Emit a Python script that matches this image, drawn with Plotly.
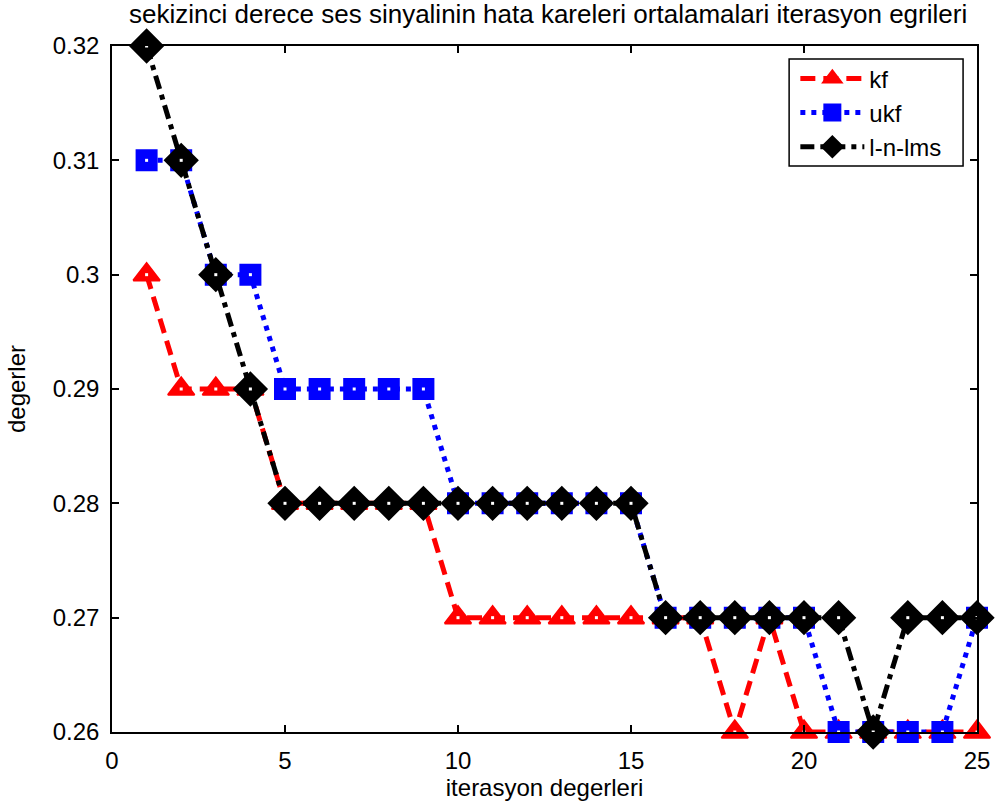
import plotly.graph_objects as go

# iteration index
iterations = list(range(1, 26))

# mean squared error per iteration for each filter
kf_values = [0.30, 0.29, 0.29, 0.29, 0.28, 0.28, 0.28, 0.28, 0.28, 0.27,
             0.27, 0.27, 0.27, 0.27, 0.27, 0.27, 0.27, 0.26, 0.27, 0.26,
             0.26, 0.26, 0.26, 0.26, 0.26]
ukf_values = [0.31, 0.31, 0.30, 0.30, 0.29, 0.29, 0.29, 0.29, 0.29, 0.28,
              0.28, 0.28, 0.28, 0.28, 0.28, 0.27, 0.27, 0.27, 0.27, 0.27,
              0.26, 0.26, 0.26, 0.26, 0.27]
lms_values = [0.32, 0.31, 0.30, 0.29, 0.28, 0.28, 0.28, 0.28, 0.28, 0.28,
              0.28, 0.28, 0.28, 0.28, 0.28, 0.27, 0.27, 0.27, 0.27, 0.27,
              0.27, 0.26, 0.27, 0.27, 0.27]

x_ticks = [0, 5, 10, 15, 20, 25]
y_ticks = [0.26, 0.27, 0.28, 0.29, 0.30, 0.31, 0.32]
y_tick_text = ["0.26", "0.27", "0.28", "0.29", "0.3", "0.31", "0.32"]

FONT = "Liberation Sans, Arial, sans-serif"

series = [
    ("kf", kf_values, "#ff0000", "15px,8px", "triangle-up", 23),
    ("ukf", ukf_values, "#0000ff", "5px,6px", "square", 20),
    ("l-n-lms", lms_values, "#000000", "14px,6px,5px,6px", "diamond", 25),
]

fig = go.Figure()
for name, vals, color, dash, symbol, size in series:
    # thick line with heavy markers
    fig.add_trace(go.Scatter(
        x=iterations, y=vals, name=name, mode="lines+markers",
        legendgroup=name, cliponaxis=False,
        line=dict(color=color, width=5, dash=dash),
        marker=dict(symbol=symbol, size=size, color=color,
                    line=dict(color=color, width=2)),
    ))
    # small hollow centre of each marker
    fig.add_trace(go.Scatter(
        x=iterations, y=vals, mode="markers", showlegend=False,
        legendgroup=name, hoverinfo="skip", cliponaxis=False,
        marker=dict(symbol="square", size=3, color="white",
                    line=dict(width=0)),
    ))

axis_common = dict(
    showgrid=False, zeroline=False, showline=True, mirror="ticks",
    linecolor="black", linewidth=1.5, ticks="inside", ticklen=7,
    tickcolor="black", tickwidth=1.5, ticklabelstandoff=6,
    tickfont=dict(family=FONT, size=24, color="black"),
)

# legend frame (the legend itself is drawn transparent on top of it)
legend_frame = dict(
    type="rect", xref="paper", yref="paper",
    x0=0.7828, x1=0.9839, y0=0.825, y1=0.981,
    fillcolor="white", line=dict(color="black", width=1.5), layer="above",
)

fig.update_layout(
    width=1002, height=811,
    margin=dict(l=112, r=20, t=46, b=79),
    paper_bgcolor="white", plot_bgcolor="white",
    title=dict(
        text="sekizinci derece ses sinyalinin hata kareleri ortalamalari iterasyon egrileri",
        x=0.547, xanchor="center", y=0.994, yanchor="top",
        font=dict(family=FONT, size=26, color="black"),
    ),
    xaxis=dict(range=[0, 25], tickvals=x_ticks,
               title=dict(text="iterasyon degerleri", standoff=4,
                          font=dict(family=FONT, size=24, color="black")),
               **axis_common),
    yaxis=dict(range=[0.26, 0.32], tickvals=y_ticks, ticktext=y_tick_text,
               title=dict(text="degerler", standoff=20,
                          font=dict(family=FONT, size=24, color="black")),
               **axis_common),
    shapes=[legend_frame],
    legend=dict(
        x=0.79, y=0.985, xanchor="left", yanchor="top",
        bgcolor="rgba(0,0,0,0)", borderwidth=0,
        font=dict(family=FONT, size=24, color="black"),
        tracegroupgap=0, itemwidth=64,
    ),
    showlegend=True,
)

fig.write_html("out.html")
